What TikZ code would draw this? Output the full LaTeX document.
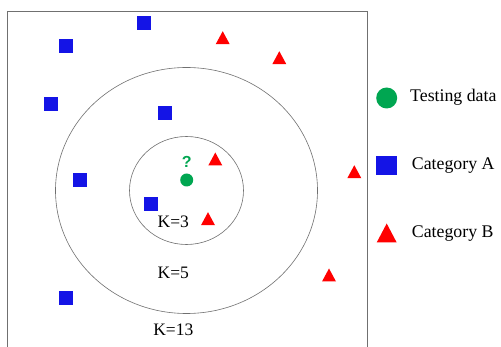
\documentclass[tikz,border=0pt]{standalone}
\usepackage{fontspec}
\setmainfont{Liberation Serif}
\setsansfont{Liberation Sans}
\definecolor{catA}{HTML}{1414E6}
\definecolor{catB}{HTML}{FF0000}
\definecolor{testc}{HTML}{00A651}
\definecolor{linec}{HTML}{707070}
\begin{document}
\begin{tikzpicture}[x=1pt,y=-1pt,
  sq/.style={fill=catA,draw=none,minimum size=14pt,inner sep=0pt},
  dot/.style={circle,fill=testc,draw=none,minimum width=13pt,minimum height=12pt,inner sep=0pt},
  lbl/.style={font=\fontsize{17.5}{19}\selectfont,inner sep=0pt},
  legtxt/.style={font=\fontsize{17.8}{19}\selectfont,anchor=west,inner sep=0pt},
  pics/tri/.style={code={\fill[catB] (-7,6.5) -- (7,6.5) -- (0,-6.5) -- cycle;}},
  pics/bigtri/.style={code={\fill[catB] (-10,9.5) -- (10,9.5) -- (0,-9.5) -- cycle;}},
  ring/.style={draw=linec,line width=0.6pt}]
\useasboundingbox (0,0) rectangle (501,347);
\fill[white] (0,0) rectangle (501,347);
\draw[linec,line width=0.7pt] (7,350) -- (7,11) -- (367,11) -- (367,350);
% rings
\coordinate (c) at (186.5,190.5);
\draw[ring] (c) ellipse [x radius=131pt, y radius=123pt];
\draw[ring] (c) ellipse [x radius=57pt, y radius=54pt];
% test point
\node[dot] (t) at (186.7,180) {};
\node[font=\sffamily\bfseries\fontsize{16}{17}\selectfont,text=testc,inner sep=0pt] (q) at (186.7,162) {?};
% category A
\node[sq] (a1) at (144,23) {};
\node[sq] (a2) at (65.7,46) {};
\node[sq] (a3) at (51,104) {};
\node[sq] (a4) at (165.3,112.7) {};
\node[sq] (a5) at (80,180.3) {};
\node[sq] (a6) at (151,204) {};
\node[sq] (a7) at (65.7,297.7) {};
% category B
\pic at (222.7,37.7) {tri};
\pic at (279.3,57.7) {tri};
\pic at (354.3,171.7) {tri};
\pic at (215.3,159) {tri};
\pic at (208,218.7) {tri};
\pic at (329,275) {tri};
% labels
\node[lbl] (k3) at (173.3,221.7) {K=3};
\node[lbl] (k5) at (173.3,272.7) {K=5};
\node[lbl] (k13) at (173.3,330) {K=13};
% legend
\node[circle,fill=testc,minimum width=21pt,minimum height=19pt,inner sep=0pt] (lt) at (386.7,98) {};
\node[legtxt] (ltt) at (410,97) {Testing data};
\node[fill=catA,minimum width=21pt,minimum height=19pt,inner sep=0pt] (la) at (386.3,165.5) {};
\node[legtxt] (lat) at (411.7,166) {Category A};
\pic at (386.7,233) {bigtri};
\node[legtxt] (lbt) at (411.7,234) {Category B};
\end{tikzpicture}
\end{document}
